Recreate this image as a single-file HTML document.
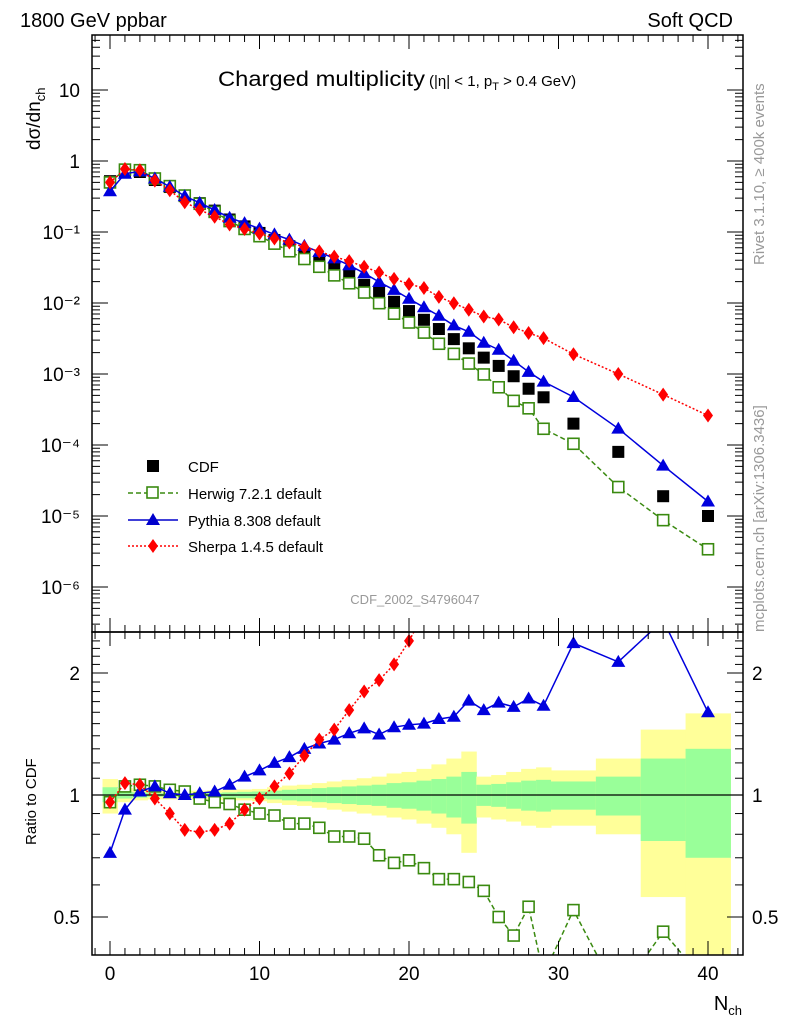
<!DOCTYPE html>
<html><head><meta charset="utf-8"><style>
body{margin:0;background:#fff;}
svg text{font-family:"Liberation Sans",sans-serif;}
</style></head><body>
<svg id="c" width="786" height="1024" xmlns="http://www.w3.org/2000/svg">
<defs>
<clipPath id="ctop"><rect x="92" y="35" width="651" height="597"/></clipPath>
<clipPath id="cbot"><rect x="92" y="632" width="651" height="323"/></clipPath>
</defs>
<g id="bands" clip-path="url(#cbot)"></g>
<g id="marks"></g>
<g id="axes"></g>
<text x="20" y="27" font-size="20">1800 GeV ppbar</text>
<text x="733" y="27" font-size="20" text-anchor="end">Soft QCD</text>
<text x="218" y="86" font-size="21" textLength="207" lengthAdjust="spacingAndGlyphs">Charged multiplicity</text>
<text x="429" y="86" font-size="15">(|η| &lt; 1, p<tspan font-size="11" dy="4">T</tspan><tspan dy="-4"> &gt; 0.4 GeV)</tspan></text>
<text x="415" y="604" font-size="13" fill="#999" text-anchor="middle">CDF_2002_S4796047</text>
<text transform="translate(40,150) rotate(-90)" font-size="19">dσ/dn<tspan font-size="13" dy="5">ch</tspan></text>
<text transform="translate(36,845) rotate(-90)" font-size="15">Ratio to CDF</text>
<text x="742" y="1010" font-size="20" text-anchor="end">N<tspan font-size="13" dy="5">ch</tspan></text>
<text transform="translate(764,265) rotate(-90)" font-size="15" fill="#999">Rivet 3.1.10, ≥ 400k events</text>
<text transform="translate(764,632) rotate(-90)" font-size="15" fill="#999">mcplots.cern.ch [arXiv:1306.3436]</text>
<g id="legend">
<rect x="147" y="460" width="12" height="12" fill="#000"/>
<text x="188" y="472" font-size="15">CDF</text>
<line x1="128" y1="493" x2="178" y2="493" stroke="#3a8a10" stroke-width="1.5" stroke-dasharray="5,3"/>
<rect x="147" y="487" width="11" height="11" fill="#fff" stroke="#3a8a10" stroke-width="1.6"/>
<text x="188" y="499" font-size="15">Herwig 7.2.1 default</text>
<line x1="128" y1="520" x2="178" y2="520" stroke="#00c" stroke-width="1.5"/>
<polygon points="153,513 160,525 146,525" fill="#00c"/>
<text x="188" y="526" font-size="15">Pythia 8.308 default</text>
<line x1="128" y1="546" x2="178" y2="546" stroke="#f00" stroke-width="1.5" stroke-dasharray="2,2"/>
<polygon points="153,539 158,546 153,553 148,546" fill="#f00"/>
<text x="188" y="552" font-size="15">Sherpa 1.4.5 default</text>
</g>
</svg>
<script>
const nch=[0,1,2,3,4,5,6,7,8,9,10,11,12,13,14,15,16,17,18,19,20,21,22,23,24,25,26,27,28,29,31,34,37,40];
const binLo=[-0.5,0.5,1.5,2.5,3.5,4.5,5.5,6.5,7.5,8.5,9.5,10.5,11.5,12.5,13.5,14.5,15.5,16.5,17.5,18.5,19.5,20.5,21.5,22.5,23.5,24.5,25.5,26.5,27.5,28.5,29.5,32.5,35.5,38.5];
const binHi=[0.5,1.5,2.5,3.5,4.5,5.5,6.5,7.5,8.5,9.5,10.5,11.5,12.5,13.5,14.5,15.5,16.5,17.5,18.5,19.5,20.5,21.5,22.5,23.5,24.5,25.5,26.5,27.5,28.5,29.5,32.5,35.5,38.5,41.5];
const cdf=[0.52,0.72,0.70,0.54,0.43,0.32,0.255,0.2,0.15,0.12,0.097,0.077,0.063,0.049,0.039,0.031,0.024,0.018,0.014,0.0104,0.0077,0.0058,0.0043,0.0031,0.0023,0.0017,0.0013,0.00093,0.00062,0.00047,0.0002,0.00008,0.000019,0.00001];
const ratioHerwig=[0.96,1.05,1.06,1.05,1.03,1.02,0.98,0.96,0.95,0.92,0.90,0.89,0.85,0.85,0.83,0.79,0.79,0.78,0.71,0.68,0.69,0.66,0.62,0.62,0.61,0.58,0.50,0.45,0.53,0.36,0.52,0.32,0.46,0.34];
const ratioPythia=[0.72,0.92,1.02,1.05,1.01,1.0,1.01,1.02,1.06,1.11,1.15,1.2,1.24,1.3,1.34,1.37,1.42,1.46,1.41,1.47,1.49,1.5,1.54,1.56,1.71,1.62,1.69,1.65,1.73,1.66,2.37,2.13,2.7,1.6];
const ratioSherpa=[0.96,1.07,1.06,0.98,0.90,0.82,0.81,0.82,0.85,0.92,0.98,1.05,1.13,1.25,1.37,1.45,1.62,1.8,1.92,2.1,2.4,2.8,2.84,3.2,3.5,3.8,4.5,4.9,6.1,6.8,9.5,12.5,27,26];
const greenUp=[1.045,1.02,1.015,1.01,1.01,1.01,1.01,1.012,1.015,1.018,1.02,1.025,1.03,1.035,1.04,1.045,1.05,1.055,1.06,1.07,1.075,1.085,1.095,1.11,1.14,1.06,1.065,1.075,1.085,1.09,1.08,1.11,1.23,1.30];
const greenDn=[0.96,0.98,0.985,0.99,0.99,0.99,0.99,0.988,0.985,0.982,0.98,0.975,0.97,0.965,0.96,0.955,0.95,0.945,0.94,0.93,0.925,0.915,0.9,0.88,0.85,0.94,0.935,0.925,0.915,0.91,0.92,0.89,0.77,0.70];
const yellowUp=[1.095,1.04,1.03,1.025,1.025,1.025,1.025,1.028,1.03,1.032,1.035,1.045,1.055,1.06,1.07,1.08,1.09,1.1,1.11,1.13,1.14,1.16,1.19,1.23,1.28,1.11,1.12,1.14,1.16,1.17,1.15,1.23,1.45,1.59];
const yellowDn=[0.90,0.96,0.97,0.975,0.975,0.975,0.975,0.973,0.97,0.97,0.965,0.955,0.945,0.94,0.93,0.92,0.91,0.9,0.89,0.88,0.87,0.85,0.83,0.80,0.72,0.88,0.87,0.86,0.84,0.83,0.84,0.80,0.56,0.30];
const xTicks=[0,10,20,30,40];
const yTopTicks=[10,1,0.1,0.01,0.001,0.0001,0.00001,0.000001];
const yTopLabels=["10","1","10⁻¹","10⁻²","10⁻³","10⁻⁴","10⁻⁵","10⁻⁶"];
const ratioTicks=[0.5,1,2];

const NS="http://www.w3.org/2000/svg";
const L=92,R=743,T=35,M=632,B=955;
const X=v=>110+v*14.95;
const YT=v=>161-71*Math.log10(v);
const YR=v=>795-122*Math.log2(v);
function mk(tag,attrs,parent){const e=document.createElementNS(NS,tag);for(const k in attrs)e.setAttribute(k,attrs[k]);parent.appendChild(e);return e;}
const bands=document.getElementById('bands'),marks=document.getElementById('marks'),axes=document.getElementById('axes');

nch.forEach((n,i)=>{
  const y1=mk('rect',{x:X(binLo[i]),y:YR(yellowUp[i]),width:X(binHi[i])-X(binLo[i])+0.5,height:YR(yellowDn[i])-YR(yellowUp[i]),fill:'#ffff99'},bands);
  
  
  const g1=mk('rect',{x:X(binLo[i]),y:YR(greenUp[i]),width:X(binHi[i])-X(binLo[i])+0.5,height:YR(greenDn[i])-YR(greenUp[i]),fill:'#99ff99'},bands);
  
  
});
mk('line',{x1:L,y1:YR(1),x2:R,y2:YR(1),stroke:'#000','stroke-width':1.2},bands);

const series=[
 {name:'herwig',ratio:ratioHerwig,color:'#3a8a10',dash:'5,3',shape:'sq'},
 {name:'pythia',ratio:ratioPythia,color:'#0000dd',dash:'',shape:'tri'},
 {name:'sherpa',ratio:ratioSherpa,color:'#ff0000',dash:'2,2',shape:'dia'}];
function marker(g,shape,x,y,c){
  let e;
  if(shape==='sq') e=mk('rect',{x:x-5.5,y:y-5.5,width:11,height:11,fill:'#fff',stroke:c,'stroke-width':1.6},g);
  else if(shape==='tri') e=mk('polygon',{points:`${x},${y-7} ${x+7},${y+5} ${x-7},${y+5}`,fill:c},g);
  else e=mk('polygon',{points:`${x},${y-7} ${x+5},${y} ${x},${y+7} ${x-5},${y}`,fill:c},g);
  return e;
}
const gt=mk('g',{'clip-path':'url(#ctop)'},marks), gb=mk('g',{'clip-path':'url(#cbot)'},marks);
nch.forEach((n,i)=>{
  const r=mk('rect',{x:X(n)-6,y:YT(cdf[i])-6,width:12,height:12,fill:'#000'},gt);
  
  
});
series.forEach(s=>{
  const top=nch.map((n,i)=>[X(n),YT(cdf[i]*s.ratio[i])]);
  const bot=nch.map((n,i)=>[X(n),YR(s.ratio[i])]);
  [[gt,top],[gb,bot]].forEach(([g,pts])=>{
    const p=mk('polyline',{points:pts.map(q=>q.join(',')).join(' '),fill:'none',stroke:s.color,'stroke-width':1.5,'stroke-dasharray':s.dash},g);
    
    
    pts.forEach(q=>{const m=marker(g,s.shape,q[0],q[1],s.color);
      
      });
  });
});

[[T,M],[M,B]].forEach(([a,b])=>{const f=mk('rect',{x:L,y:a,width:R-L,height:b-a,fill:'none',stroke:'#000','stroke-width':1.5},axes);
  
  });
for(let v=-1;v<=42;v++){
  const x=X(v);if(x<L||x>R)continue;const big=v%10===0,len=big?14:7;
  [[T,1],[M,1],[M,-1],[B,-1]].forEach(([y,d])=>mk('line',{x1:x,y1:y,x2:x,y2:y+d*len,stroke:'#000','stroke-width':1},axes));
}
xTicks.forEach(v=>{const t=mk('text',{x:X(v),y:980,'font-size':19,'text-anchor':'middle'},axes);t.textContent=v;
  
  });
for(let d=-7;d<=1;d++)for(let k=1;k<=9;k++){
  const y=YT(k*Math.pow(10,d));if(y<T||y>M)continue;const len=k===1?16:8;
  mk('line',{x1:L,y1:y,x2:L+len,y2:y,stroke:'#000'},axes);
  mk('line',{x1:R,y1:y,x2:R-len,y2:y,stroke:'#000'},axes);
}
yTopTicks.forEach((v,i)=>{const t=mk('text',{x:80,y:YT(v)+7,'font-size':19,'text-anchor':'end'},axes);t.textContent=yTopLabels[i];
  
  });
for(let v=0.4;v<=2.5;v+=0.1){
  const y=YR(v);if(y<M||y>B)continue;const big=Math.abs(v-0.5)<1e-6||Math.abs(v-1)<1e-6||Math.abs(v-2)<1e-6;const len=big?16:8;
  mk('line',{x1:L,y1:y,x2:L+len,y2:y,stroke:'#000'},axes);
  mk('line',{x1:R,y1:y,x2:R-len,y2:y,stroke:'#000'},axes);
}
ratioTicks.forEach(v=>{
  const t=mk('text',{x:80,y:YR(v)+7,'font-size':19,'text-anchor':'end'},axes);t.textContent=v;
  
  
  const t2=mk('text',{x:752,y:YR(v)+7,'font-size':19},axes);t2.textContent=v;
  
  
});
</script>
</body></html>
